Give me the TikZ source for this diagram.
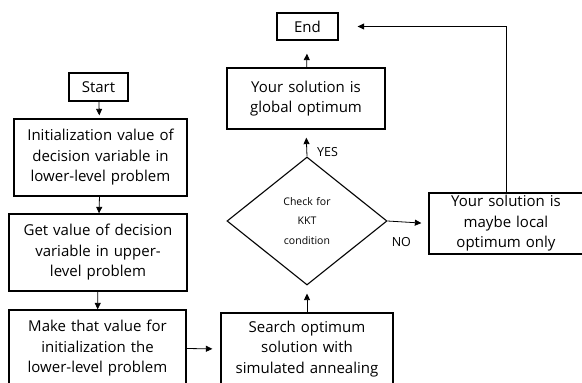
\documentclass[tikz,border=0pt]{standalone}
\usepackage{fontspec}
\setmainfont{Open Sans}
\usetikzlibrary{shapes.geometric,arrows.meta}

\begin{document}
\begin{tikzpicture}
[
    x=1pt, y=-1pt,
    box/.style={draw, line width=1.3pt, inner sep=0pt, align=center,
        font=\fontsize{15}{20.5}\selectfont},
    decision/.style={draw, diamond, line width=1.1pt, inner sep=0pt, align=center,
        text width=58pt, minimum width=160pt, minimum height=128pt,
        font=\fontsize{10.5}{19.5}\selectfont},
    line/.style={line width=0.8pt, -{Triangle[length=6.5pt,width=6pt]}},
    tag/.style={inner sep=0pt, font=\fontsize{12.5}{14}\selectfont},
]
\useasboundingbox (0,0) rectangle (582,383);

% left column
\node [box, text width=59pt, minimum height=28pt] (start) at (98.5,87) {Start};
\node [box, text width=173pt, minimum height=77pt] (init) at (100.5,157.5)
    {Initialization value of\\ decision variable in\\ lower-level problem};
\node [box, text width=178pt, minimum height=77pt] (getval) at (98,252.5)
    {Get value of decision\\ variable in upper-\\ level problem};
\node [box, text width=177pt, minimum height=77pt] (make) at (97.5,348.5)
    {Make that value for\\ initialization the\\ lower-level problem};

% middle column
\node [box, text width=172pt, minimum height=72pt] (search) at (307,349)
    {Search optimum\\ solution with\\ simulated annealing};
\node [decision] (check) at (307,221) {Check for\\ KKT\\ condition};
\node [box, text width=158pt, minimum height=61pt] (global) at (306,98.5)
    {Your solution is\\ global optimum};
\node [box, text width=61pt, minimum height=27pt] (end) at (307.5,26.5) {End};

% right column
\node [box, text width=154pt, minimum height=61pt] (local) at (506,223.5)
    {Your solution is\\ maybe local\\ optimum only};

% connectors
\draw [line, shorten >=3pt] (start) -- (init);
\draw [line] (init) -- (getval);
\draw [line] (getval) -- (make);
\draw [line, shorten >=8pt] (make.east) -- (search.west);
\draw [line, shorten >=8pt] (search) -- (check);
\draw [line, shorten >=8pt] (check.north) -- (global.south);
\draw [line, shorten >=13pt] (global) -- (end);
\draw [line, shorten >=7pt] (check.east) -- (local.west);
\draw [line, shorten >=19pt] (local.north) |- (end.east);

\node [tag, anchor=west, xshift=10pt, yshift=4pt] (yes) at (check.north) {YES};
\node [tag, anchor=west, xshift=4pt, yshift=-21pt] (no) at (check.east) {NO};
\end{tikzpicture}
\end{document}
